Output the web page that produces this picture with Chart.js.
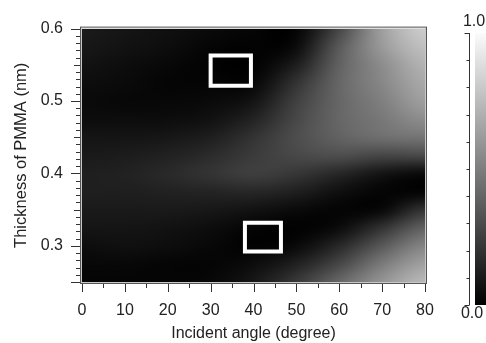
<!doctype html>
<html>
<head>
<meta charset="utf-8">
<script src="https://cdn.jsdelivr.net/npm/chart.js@4/dist/chart.umd.min.js"></script>
</head>
<body style="margin:0;background:#fff;overflow:hidden;">
<canvas id="myChart" width="486" height="343"></canvas>
<script>
// incident angle (degree) columns, PMMA thickness (nm) rows, top to bottom
const angles = [0, 10, 20, 30, 40, 50, 60, 70, 80];
const thickness = [0.6, 0.575, 0.55, 0.525, 0.5, 0.475, 0.45, 0.425, 0.4, 0.375, 0.35, 0.325, 0.3, 0.275, 0.25];
// normalised intensity, 0 = black, 1 = white
const intensity = [
  [0.10, 0.08, 0.06, 0.04, 0.02, 0.02, 0.28, 0.62, 0.80],
  [0.09, 0.07, 0.05, 0.02, 0.01, 0.05, 0.35, 0.60, 0.75],
  [0.07, 0.05, 0.03, 0.01, 0.01, 0.12, 0.38, 0.55, 0.70],
  [0.05, 0.04, 0.02, 0.02, 0.03, 0.20, 0.40, 0.53, 0.66],
  [0.04, 0.03, 0.03, 0.04, 0.08, 0.25, 0.40, 0.50, 0.62],
  [0.05, 0.05, 0.05, 0.07, 0.14, 0.28, 0.40, 0.47, 0.55],
  [0.08, 0.08, 0.09, 0.12, 0.20, 0.30, 0.38, 0.43, 0.45],
  [0.10, 0.11, 0.13, 0.17, 0.23, 0.28, 0.30, 0.27, 0.28],
  [0.12, 0.13, 0.16, 0.20, 0.24, 0.21, 0.15, 0.08, 0.04],
  [0.12, 0.12, 0.13, 0.14, 0.15, 0.12, 0.06, 0.02, 0.02],
  [0.10, 0.10, 0.10, 0.09, 0.07, 0.04, 0.02, 0.04, 0.20],
  [0.08, 0.08, 0.07, 0.05, 0.02, 0.01, 0.05, 0.20, 0.38],
  [0.05, 0.06, 0.05, 0.03, 0.01, 0.04, 0.16, 0.35, 0.52],
  [0.03, 0.03, 0.02, 0.02, 0.05, 0.13, 0.28, 0.48, 0.63],
  [0.02, 0.02, 0.02, 0.03, 0.09, 0.22, 0.40, 0.58, 0.72]
];
// marked regions: [angle from, angle to, thickness from, thickness to]
const box1 = [30, 39.4, 0.521, 0.563];
const box2 = [38, 46.4, 0.292, 0.332];
const colorbarTicks = [0, 0.1, 0.2, 0.3, 0.4, 0.5, 0.6, 0.7, 0.8, 0.9, 1.0];
const colorbarLabels = ['0.0', '1.0'];

function rect(b) {
  return [{x: b[0], y: b[2]}, {x: b[1], y: b[2]}, {x: b[1], y: b[3]}, {x: b[0], y: b[3]}, {x: b[0], y: b[2]}];
}
const isMult = (v, s) => Math.abs(v / s - Math.round(v / s)) < 1e-6;

// smooth (catmull-rom) lookup between grid cells, only used for shading pixels
function cr(p0, p1, p2, p3, t) {
  return p1 + 0.5 * t * (p2 - p0 + t * (2 * p0 - 5 * p1 + 4 * p2 - p3 + t * (3 * (p1 - p2) + p3 - p0)));
}
function shade(fi, fj) {
  const nI = angles.length, nJ = thickness.length;
  const i = Math.floor(fi), j = Math.floor(fj);
  const ti = fi - i, tj = fj - j;
  const at = (jj, ii) => intensity[Math.min(nJ - 1, Math.max(0, jj))][Math.min(nI - 1, Math.max(0, ii))];
  const rows = [];
  for (let m = -1; m <= 2; m++) {
    rows.push(cr(at(j + m, i - 1), at(j + m, i), at(j + m, i + 1), at(j + m, i + 2), ti));
  }
  return Math.min(1, Math.max(0, cr(rows[0], rows[1], rows[2], rows[3], tj)));
}

Chart.defaults.font.family = '"Liberation Sans", Arial, sans-serif';
Chart.defaults.font.size = 16;
Chart.defaults.color = '#222';

const heatmap = {
  id: 'heatmap',
  beforeDatasetsDraw(chart) {
    const {ctx, chartArea: a, scales: {x, y}} = chart;
    const w = Math.round(a.right - a.left), h = Math.round(a.bottom - a.top);
    const img = ctx.createImageData(w, h);
    const stepX = angles[1] - angles[0];
    const stepY = thickness[0] - thickness[1];
    for (let py = 0; py < h; py++) {
      const fj = (thickness[0] - y.getValueForPixel(a.top + py + 0.5)) / stepY;
      for (let px = 0; px < w; px++) {
        const fi = (x.getValueForPixel(a.left + px + 0.5) - angles[0]) / stepX;
        const g = Math.round(shade(fi, fj) * 255);
        const k = (py * w + px) * 4;
        img.data[k] = g; img.data[k + 1] = g; img.data[k + 2] = g; img.data[k + 3] = 255;
      }
    }
    ctx.putImageData(img, Math.round(a.left), Math.round(a.top));
  },
  afterDraw(chart) {
    const {ctx, chartArea: a, scales: {x, y}} = chart;
    ctx.save();
    // frame
    ctx.lineWidth = 1;
    ctx.strokeStyle = '#c8c8c8';
    ctx.strokeRect(a.left - 0.5, a.top - 0.5, a.right - a.left + 1, a.bottom - a.top + 1);
    ctx.strokeStyle = '#555';
    ctx.strokeRect(a.left - 1.5, a.top - 1.5, a.right - a.left + 3, a.bottom - a.top + 3);
    // y ticks
    ctx.strokeStyle = '#333';
    ctx.beginPath();
    y.ticks.forEach(t => {
      const py = Math.round(y.getPixelForValue(t.value)) + 0.5;
      const len = isMult(t.value, 0.1) || t.value === y.min ? 9 : (isMult(t.value, 0.05) ? 6 : 4);
      ctx.moveTo(a.left - 2, py);
      ctx.lineTo(a.left - 2 - len, py);
    });
    // x ticks
    x.ticks.forEach(t => {
      const px = Math.round(x.getPixelForValue(t.value)) + 0.5;
      const len = isMult(t.value, 10) ? 8 : 4;
      ctx.moveTo(px, a.bottom + 2);
      ctx.lineTo(px, a.bottom + 2 + len);
    });
    ctx.stroke();
    // colorbar
    const cbTop = 33, cbBot = 305, cbX = 475, cbAxis = 469.5;
    const grad = ctx.createLinearGradient(0, cbTop, 0, cbBot);
    grad.addColorStop(0, '#fbfbfb');
    grad.addColorStop(1, '#000');
    ctx.fillStyle = grad;
    ctx.fillRect(cbX, cbTop, chart.width - cbX, cbBot - cbTop);
    const cbPix = v => cbBot - v * (cbBot - cbTop);
    ctx.strokeStyle = '#333';
    ctx.beginPath();
    ctx.moveTo(cbAxis, cbPix(0));
    ctx.lineTo(cbAxis, cbPix(1));
    colorbarTicks.forEach(v => {
      const py = Math.round(cbPix(v)) + 0.5;
      const len = (v === 0 || v === 1) ? 5 : 3;
      ctx.moveTo(cbAxis, py);
      ctx.lineTo(cbAxis - len, py);
    });
    ctx.stroke();
    ctx.fillStyle = '#222';
    ctx.font = '16px "Liberation Sans", Arial, sans-serif';
    ctx.textAlign = 'center';
    ctx.textBaseline = 'middle';
    ctx.fillText(colorbarLabels[1], 474, cbPix(1) - 11);
    ctx.fillText(colorbarLabels[0], 472, cbPix(0) + 9);
    ctx.restore();
  }
};

const boxStyle = {
  type: 'line', borderColor: '#fff', borderWidth: 4, borderJoinStyle: 'miter',
  borderCapStyle: 'square', pointRadius: 0, fill: false, tension: 0
};

new Chart(document.getElementById('myChart'), {
  type: 'scatter',
  data: {
    datasets: [
      Object.assign({data: rect(box1)}, boxStyle),
      Object.assign({data: rect(box2)}, boxStyle)
    ]
  },
  options: {
    responsive: false,
    animation: false,
    layout: {padding: {top: 25, right: 61, left: 0, bottom: 0}},
    plugins: {legend: {display: false}, tooltip: {enabled: false}},
    scales: {
      x: {
        type: 'linear', min: 0, max: 80,
        grid: {display: false, drawTicks: false, tickLength: 0},
        border: {display: false},
        ticks: {stepSize: 5, autoSkip: false, maxRotation: 0, padding: 19,
          callback: v => isMult(v, 10) ? String(v) : ''},
        title: {display: true, text: 'Incident angle (degree)', padding: {top: 0, bottom: 0}},
        afterFit: s => { s.height = 61; }
      },
      y: {
        type: 'linear', min: 0.25, max: 0.6,
        grid: {display: false, drawTicks: false, tickLength: 0},
        border: {display: false},
        ticks: {stepSize: 0.01, autoSkip: false, padding: 19,
          callback: v => (isMult(v, 0.1) ? v.toFixed(1) : '')},
        title: {display: true, text: 'Thickness of PMMA (nm)', font: {size: 16.5}, padding: {top: 12, bottom: 0}},
        afterFit: s => { s.width = 82; }
      }
    }
  },
  plugins: [heatmap]
});
</script>
</body>
</html>
